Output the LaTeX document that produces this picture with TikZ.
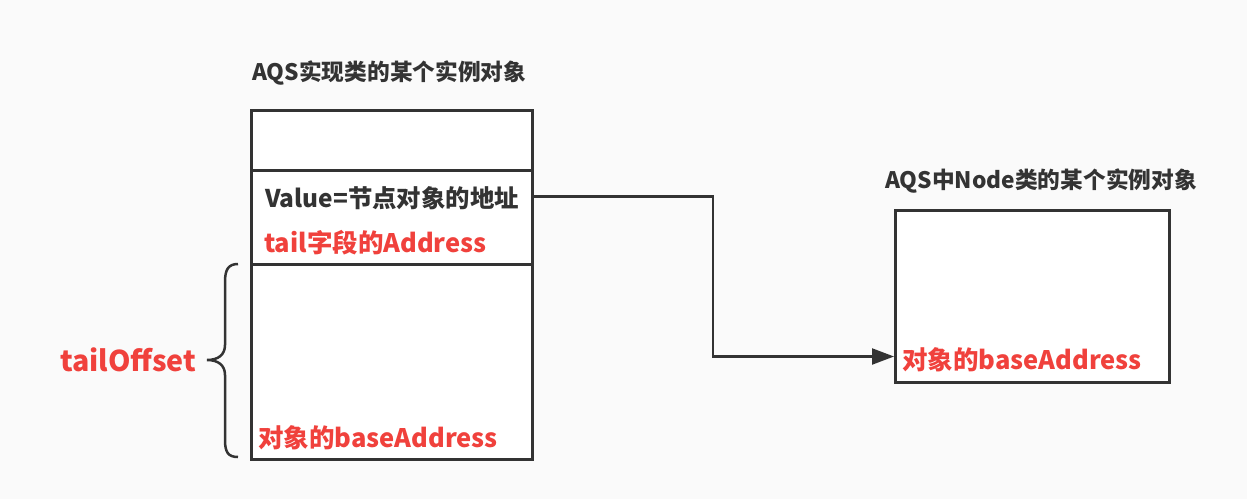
\documentclass[tikz,border=0pt]{standalone}
\usepackage{fontspec}
\setmainfont{Noto Sans CJK SC}
\usetikzlibrary{arrows.meta}
\definecolor{ink}{HTML}{333333}
\definecolor{redt}{HTML}{F0413C}
\definecolor{bg}{HTML}{FAFAFA}
\begin{document}
\begin{tikzpicture}[x=1pt,y=-1pt,
  cell/.style={draw=ink,line width=3pt,fill=white,rectangle,inner sep=0pt,anchor=north west},
  lbl/.style={inner sep=0pt,anchor=west,font=\bfseries\fontsize{22.7}{26}\selectfont,text=ink},
  val/.style={inner sep=0pt,anchor=west,font=\bfseries\fontsize{24.4}{28}\selectfont,text=ink},
  redl/.style={inner sep=0pt,anchor=west,font=\bfseries\fontsize{25.5}{29}\selectfont,text=redt},
  conn/.style={draw=ink,line width=2.2pt,-{Triangle[length=22pt,width=16pt]}}]
\fill[bg] (0,0) rectangle (1247,499);
\useasboundingbox (0,0) rectangle (1247,499);
% left object
\node[cell,minimum width=281pt,minimum height=60pt] (r1) at (250,109) {};
\node[cell,minimum width=281pt,minimum height=94pt] (r2) at (250,169) {};
\node[cell,minimum width=281pt,minimum height=195pt] (r3) at (250,263) {};
\node[lbl] (t1) at (252,73) {AQS实现类的某个实例对象};
\node[val] (v) at (265,198) {Value=节点对象的地址};
\node[redl] (ta) at (264,243) {tail字段的Address};
\node[redl] (b1) at (258,438) {对象的baseAddress};
% right object
\node[cell,minimum width=274pt,minimum height=172pt] (nb) at (894,209) {};
\node[lbl] (t2) at (885,181) {AQS中Node类的某个实例对象};
\node[redl] (b2) at (902,360) {对象的baseAddress};
% brace and offset
\node[inner sep=0pt,anchor=west,font=\bfseries\fontsize{28.6}{32}\selectfont,text=redt] (off) at (60,360) {tailOffset};
\draw[ink,line width=2.5pt] (238,264) .. controls (228,264) and (225,270) .. (225,282) -- (225,345)
  .. controls (225,355) and (218,360) .. (207,360)
  .. controls (218,360) and (225,365) .. (225,375) -- (225,440)
  .. controls (225,452) and (228,457) .. (238,457);
% connector
\draw[conn] ([yshift=21pt]r2.east) -- ++(179,0) |- ([yshift=-60pt]nb.west);
\end{tikzpicture}
\end{document}
